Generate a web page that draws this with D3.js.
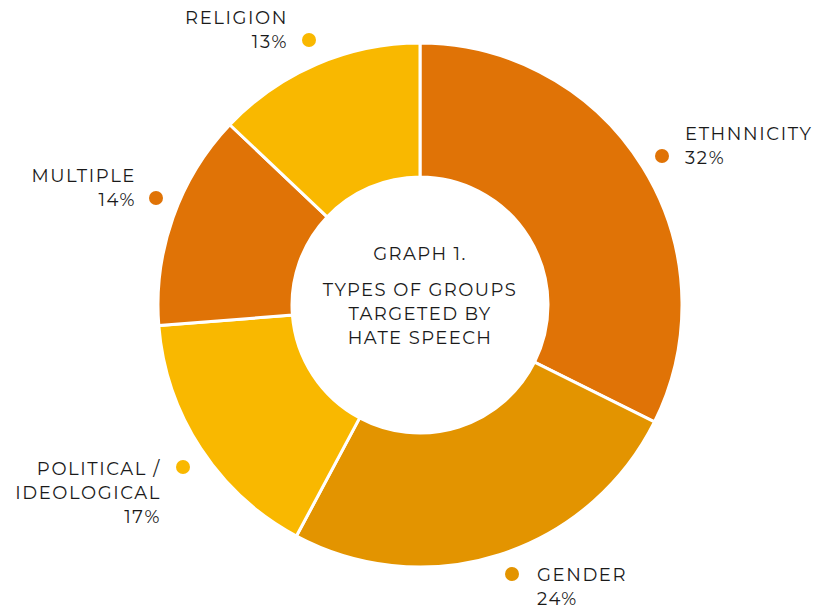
<!DOCTYPE html>
<html>
<head>
<meta charset="utf-8">
<script src="https://cdn.jsdelivr.net/npm/d3@7"></script>
<style>
  body { margin: 0; background: #fff; }
  svg text { font-family: "Montserrat", "Noto Sans", Lato, sans-serif; fill: #1a1a1a; }
</style>
</head>
<body>
<svg width="815" height="612"></svg>
<script>
const categories = ["ETHNNICITY", "GENDER", "POLITICAL / IDEOLOGICAL", "MULTIPLE", "RELIGION"];
// slice sizes as drawn in the picture (the printed labels are rounded)
const values = [32.3, 25.4, 15.9, 13.3, 12.9];
const percent_labels = ["32%", "24%", "17%", "14%", "13%"];
const colors = ["#e07306", "#e39400", "#f9b800", "#e07306", "#f9b800"];
const title_lines = ["GRAPH 1.", "TYPES OF GROUPS", "TARGETED BY", "HATE SPEECH"];

const name_lines = [["ETHNNICITY"], ["GENDER"], ["POLITICAL /", "IDEOLOGICAL"], ["MULTIPLE"], ["RELIGION"]];
const label_pos = [
	{ x: 685, y: 140, anchor: "start", dx: 662, dy: 156 },
	{ x: 537, y: 581, anchor: "start", dx: 512, dy: 574 },
	{ x: 161, y: 475, anchor: "end", dx: 183, dy: 467 },
	{ x: 136, y: 182, anchor: "end", dx: 156, dy: 198 },
	{ x: 288, y: 24, anchor: "end", dx: 309, dy: 40 }
];

const svg = d3.select("svg");
const cx = 420, cy = 305;
const outer = 262, inner = 128;

const pie = d3.pie().sort(null).value(d => d);
const arc = d3.arc().innerRadius(inner).outerRadius(outer);

const g = svg.append("g").attr("transform", "translate(" + cx + "," + cy + ")");

g.selectAll("path")
	.data(pie(values))
	.enter()
	.append("path")
	.attr("d", arc)
	.attr("fill", (d, i) => colors[i])
	.attr("stroke", "#fff")
	.attr("stroke-width", 3);

// center title
const title_y = [260, 296, 320, 344];
title_lines.forEach((t, i) => {
	svg.append("text")
		.attr("x", cx)
		.attr("y", title_y[i])
		.attr("text-anchor", "middle")
		.attr("font-size", 18)
		.attr("letter-spacing", 1.4)
		.text(t);
});

// labels
categories.forEach((c, i) => {
	const p = label_pos[i];
	svg.append("circle")
		.attr("cx", p.dx)
		.attr("cy", p.dy)
		.attr("r", 7)
		.attr("fill", colors[i]);
	const lines = name_lines[i].concat([percent_labels[i]]);
	lines.forEach((line, j) => {
		svg.append("text")
			.attr("x", p.x)
			.attr("y", p.y + j * 24)
			.attr("text-anchor", p.anchor)
			.attr("font-size", 18)
			.attr("letter-spacing", 1.6)
			.text(line);
	});
});
</script>
</body>
</html>
